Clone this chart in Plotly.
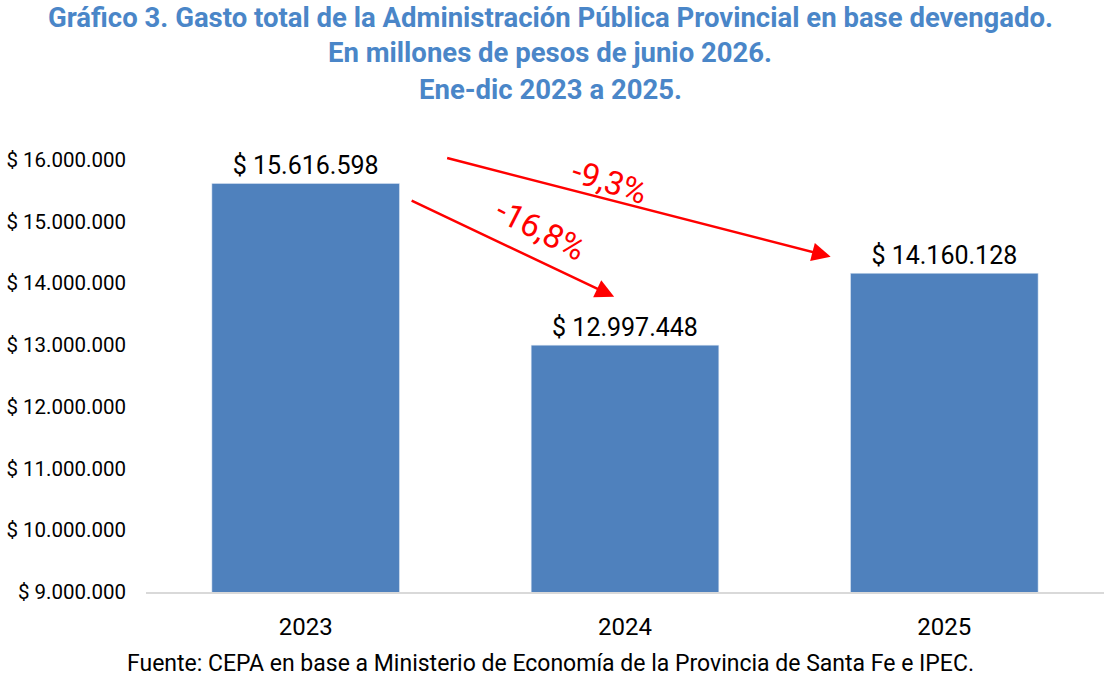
import plotly.graph_objects as go

# data
years = ["2023", "2024", "2025"]
gasto = [15616598, 12997448, 14160128]
variaciones = ["-16,8%", "-9,3%"]
y_ticks = [9000000, 10000000, 11000000, 12000000, 13000000, 14000000, 15000000, 16000000]
y_ticktext = ["$ " + f"{v:,}".replace(",", ".") for v in y_ticks]

title_lines = [
    "Gráfico 3. Gasto total de la Administración Pública Provincial en base devengado.",
    "En millones de pesos de junio 2026.",
    "Ene-dic 2023 a 2025.",
]
fuente = "Fuente: CEPA en base a Ministerio de Economía de la Provincia de Santa Fe e IPEC."

fig = go.Figure()
fig.add_trace(go.Bar(
    x=years, y=gasto,
    marker_color="#4f81bd",
    texttemplate="$ %{y:,.0f}",
    textposition="outside",
    textfont=dict(size=25, color="#000000"),
    cliponaxis=False,
))

red = "#ff0000"
# arrows for the variations (2023 -> 2024, 2023 -> 2025)
fig.add_annotation(x=0.966, y=13780000, ax=-204, ay=-97, xref="x", yref="y",
                   showarrow=True, arrowhead=2, arrowsize=1.5, arrowwidth=2.5,
                   arrowcolor=red, text="")
fig.add_annotation(x=1.644, y=14430000, ax=-385, ay=-99, xref="x", yref="y",
                   showarrow=True, arrowhead=2, arrowsize=1.5, arrowwidth=2.5,
                   arrowcolor=red, text="")
fig.add_annotation(x=0.735, y=14870000, xref="x", yref="y", text=variaciones[0],
                   showarrow=False, textangle=27, font=dict(size=33, color=red))
fig.add_annotation(x=0.95, y=15640000, xref="x", yref="y", text=variaciones[1],
                   showarrow=False, textangle=18, font=dict(size=33, color=red))

# title, three lines, centred on the page
page_center = (550 - 146) / 958
for line, ty in zip(title_lines, [1.258, 1.1816, 1.0985]):
    fig.add_annotation(x=page_center, y=ty, xref="paper", yref="paper",
                       text="<b>" + line + "</b>", showarrow=False, yanchor="middle",
                       font=dict(family="Roboto", size=27.5, color="#4a86c8"))

fig.add_annotation(x=page_center, y=-0.1575, xref="paper", yref="paper", text=fuente,
                   showarrow=False, yanchor="middle", font=dict(size=23, color="#000000"))

fig.update_layout(
    width=1108, height=696,
    margin=dict(l=146, r=4, t=135, b=104),
    plot_bgcolor="white", paper_bgcolor="white",
    font=dict(family="Roboto", color="#000000"),
    separators=",.",
    bargap=0.4125,
    showlegend=False,
)
fig.update_yaxes(range=[9000000, 16400000], tickvals=y_ticks, ticktext=y_ticktext,
                 showgrid=False, zeroline=False, automargin=False,
                 tickfont=dict(size=20.5), ticks="", ticklabelstandoff=19)
fig.update_xaxes(showline=True, linecolor="#d9d9d9", linewidth=1.5, automargin=False,
                 tickfont=dict(size=24), ticks="", ticklabelstandoff=12)

# page has a default 8px body margin; drop it so the figure fills the window
fig.write_html("out.html", config={"displayModeBar": False},
               post_script="document.body.style.margin='0';")
